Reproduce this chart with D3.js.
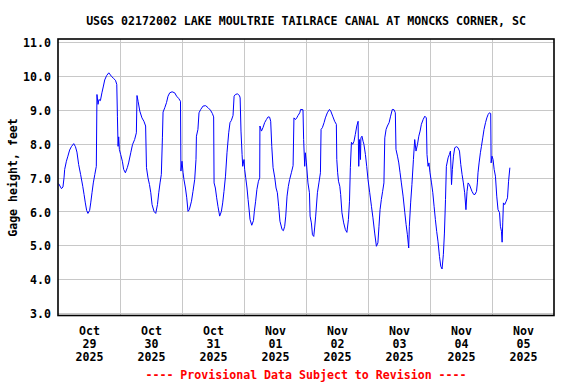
<!DOCTYPE html>
<html>
<head>
<meta charset="utf-8">
<script src="https://cdn.jsdelivr.net/npm/d3@7"></script>
<style>
  body { margin: 0; background: #fff; }
  svg { display: block; }
  svg text { font-family: "DejaVu Sans Mono", "Liberation Mono", monospace; font-weight: bold; font-size: 11.6px; fill: #000; }
</style>
</head>
<body>
<svg id="chart"></svg>
<script>
// Gage height readings in feet: [time of day, value]
const oct29 = [
  ["00:15",6.82],["01:20",6.67],["01:55",6.72],["02:20",6.99],["02:35",7.24],["03:15",7.48],["03:50",7.63],
  ["04:30",7.81],["05:10",7.91],["06:05",8.00],["06:45",7.91],["07:20",7.75],["08:00",7.38],["08:45",7.09],
  ["09:35",6.74],["10:05",6.50],["10:35",6.25],["11:05",6.03],["11:35",5.94],["12:15",6.03],["12:40",6.25],
  ["13:10",6.55],["13:40",6.84],["14:15",7.09],["14:50",7.33],["15:05",9.45],["15:30",9.16],["15:50",9.30],
  ["16:25",9.27],["17:00",9.50],["17:35",9.70],["18:05",9.88],["18:50",10.01],["19:40",10.09],["20:40",9.99],
  ["21:25",9.93],["22:15",9.87],["22:45",9.75],["23:00",8.81],["23:15",7.92],["23:30",8.20],["23:45",7.83]
];
const oct30 = [
  ["00:15",7.68],["00:55",7.48],["01:25",7.24],["02:05",7.14],["02:50",7.29],["03:20",7.43],["04:10",7.73],
  ["04:50",7.97],["05:40",8.12],["06:20",8.32],["06:35",9.42],["07:00",9.25],["07:40",8.96],["08:30",8.76],
  ["09:15",8.66],["09:55",8.52],["10:15",7.29],["10:50",6.99],["11:25",6.79],["11:55",6.55],["12:25",6.20],
  ["13:10",6.00],["13:50",5.94],["14:30",6.20],["15:00",6.55],["15:30",6.84],["16:00",7.09],["16:25",8.17],
  ["16:40",8.93],["17:20",9.06],["18:00",9.21],["18:35",9.40],["19:15",9.50],["20:10",9.53],["21:10",9.50],
  ["21:55",9.40],["22:45",9.33],["23:25",9.25],["23:35",7.19]
];
const oct31 = [
  ["00:00",7.48],["00:25",7.14],["00:45",6.94],["01:20",6.69],["01:50",6.40],["02:20",6.00],["02:50",6.05],
  ["03:40",6.30],["04:15",6.59],["04:55",6.94],["05:25",7.53],["05:35",8.22],["06:10",8.42],["06:35",8.91],
  ["07:15",9.01],["08:10",9.11],["09:10",9.12],["10:05",9.06],["11:00",8.99],["11:45",8.89],["12:15",8.79],
  ["12:25",6.84],["12:55",6.69],["13:25",6.40],["13:55",6.15],["14:35",5.86],["15:15",6.00],["15:45",6.25],
  ["16:15",6.59],["16:50",7.04],["17:25",7.73],["18:05",8.32],["18:35",8.62],["19:05",8.68],["19:45",8.83],
  ["20:10",9.40],["20:40",9.45],["21:25",9.47],["22:15",9.42],["22:30",9.35],["22:50",8.37],["23:15",7.68],
  ["23:30",7.33]
];
const nov01 = [
  ["00:00",7.53],["00:15",7.24],["00:40",6.99],["01:10",6.69],["01:35",6.35],["01:55",6.10],["02:20",5.76],
  ["03:00",5.59],["03:40",5.73],["04:00",6.00],["04:30",6.30],["05:00",6.65],["05:35",6.89],["06:05",6.99],
  ["06:10",8.52],["06:45",8.37],["07:20",8.47],["08:00",8.62],["08:40",8.71],["09:20",8.79],["09:55",8.78],
  ["10:20",8.66],["10:45",7.92],["11:15",7.29],["11:55",6.99],["12:25",6.69],["12:55",6.55],["13:25",6.15],
  ["13:55",5.71],["14:45",5.46],["15:15",5.43],["15:45",5.56],["16:10",5.86],["16:40",6.45],["17:10",6.74],
  ["17:40",6.94],["18:20",7.14],["19:00",7.35],["19:20",8.76],["19:55",8.71],["20:25",8.76],["20:55",8.83],
  ["21:35",8.91],["21:55",9.01],["22:50",9.00],["23:05",8.12],["23:30",7.33],["23:45",7.73]
];
const nov02 = [
  ["00:10",7.43],["00:45",6.84],["01:20",6.55],["01:35",5.86],["02:05",5.66],["02:30",5.31],["03:00",5.26],
  ["03:20",5.51],["03:45",5.86],["04:25",6.55],["05:00",6.84],["05:35",7.14],["05:50",8.42],["06:20",8.47],
  ["07:00",8.62],["07:30",8.76],["08:15",8.91],["09:05",9.01],["09:35",8.96],["10:20",8.81],["11:05",8.66],
  ["11:45",8.57],["11:55",7.53],["12:15",7.14],["12:35",6.89],["13:05",6.74],["13:25",6.50],["13:55",5.96],
  ["14:35",5.66],["15:15",5.46],["15:50",5.38],["16:25",5.76],["16:50",6.30],["17:10",7.29],["17:35",8.04],
  ["18:05",7.98],["18:35",8.07],["19:05",8.27],["19:40",8.52],["20:10",8.66],["20:25",7.33],["20:45",8.12],
  ["21:05",7.53],["21:15",8.17],["21:40",8.22],["22:05",8.07],["22:25",7.98],["23:00",7.68],["23:30",7.33]
];
const nov03 = [
  ["00:00",6.94],["00:40",6.55],["01:20",6.15],["01:55",5.81],["02:35",5.36],["03:15",4.97],["03:50",5.07],
  ["04:15",5.56],["04:40",6.05],["05:10",6.35],["05:40",6.59],["06:10",6.84],["06:30",8.17],["07:00",8.42],
  ["07:30",8.52],["08:10",8.62],["08:45",8.81],["09:25",9.01],["10:05",9.00],["10:35",8.91],["10:50",7.83],
  ["11:25",7.63],["11:55",7.43],["12:25",7.14],["12:55",6.84],["13:35",6.45],["14:15",5.96],["14:45",5.61],
  ["15:15",5.31],["15:45",4.92],["16:00",5.56],["16:30",6.25],["17:00",6.79],["17:35",7.53],["18:05",8.12],
  ["18:35",7.78],["19:10",7.98],["19:40",8.22],["20:10",8.37],["20:40",8.57],["21:20",8.71],["22:00",8.81],
  ["22:35",8.76],["22:50",7.68],["23:15",7.33],["23:35",7.43]
];
const nov04 = [
  ["00:00",7.14],["00:35",6.84],["01:05",6.55],["01:35",6.15],["02:05",5.76],["02:35",5.41],["03:05",5.12],
  ["03:40",4.67],["04:10",4.38],["04:40",4.30],["05:10",4.72],["05:35",5.36],["06:00",6.35],["06:20",7.33],
  ["07:00",7.58],["07:30",7.68],["07:55",7.78],["08:20",6.79],["08:40",7.24],["09:05",7.63],["09:35",7.88],
  ["10:15",7.91],["10:50",7.88],["11:25",7.78],["11:55",7.38],["12:25",7.09],["12:55",6.84],["13:25",6.55],
  ["13:55",6.05],["14:20",6.59],["14:45",6.84],["15:15",6.79],["15:45",6.69],["16:15",6.59],["16:55",6.50],
  ["17:25",6.50],["18:00",6.59],["18:20",6.84],["18:35",7.14],["19:00",7.43],["19:30",7.73],["19:55",7.92],
  ["20:25",8.17],["20:55",8.42],["21:30",8.62],["22:00",8.76],["22:30",8.86],["23:00",8.91],["23:30",8.89],
  ["23:40",7.43]
];
const nov05 = [
  ["00:00",7.63],["00:25",7.53],["00:50",7.24],["01:20",7.04],["01:50",6.45],["02:20",6.05],["02:55",5.96],
  ["03:15",5.56],["03:40",5.41],["03:55",5.09],["04:10",5.66],["04:25",6.25],["04:55",6.20],["05:30",6.30],
  ["06:00",6.40],["06:25",6.89],["06:55",7.29]
];

const days = ["2025-10-29","2025-10-30","2025-10-31","2025-11-01","2025-11-02","2025-11-03","2025-11-04","2025-11-05"];
const dayReadings = [oct29, oct30, oct31, nov01, nov02, nov03, nov04, nov05];
const yTicks = [3, 4, 5, 6, 7, 8, 9, 10, 11];
const xDomain = ["2025-10-29 00:00", "2025-11-06 00:00"];

const titleText = "USGS 02172002 LAKE MOULTRIE TAILRACE CANAL AT MONCKS CORNER, SC";
const yLabelText = "Gage height, feet";
const footerText = "---- Provisional Data Subject to Revision ----";

class GageChart {

  constructor(_config, _data) {
    this.config = {
      parentElement: _config.parentElement,
      containerWidth: _config.containerWidth || 576,
      containerHeight: _config.containerHeight || 384,
      margin: _config.margin || { top: 42, right: 22, bottom: 71, left: 58 }
    };
    this.data = _data;
    this.initVis();
  }

  initVis() {
    let vis = this;

    vis.width = vis.config.containerWidth - vis.config.margin.left - vis.config.margin.right;
    vis.height = vis.config.containerHeight - vis.config.margin.top - vis.config.margin.bottom;

    const parseTime = d3.timeParse("%Y-%m-%d %H:%M");
    vis.xScale = d3.scaleTime()
      .domain(xDomain.map(parseTime))
      .range([0, vis.width]);
    vis.yScale = d3.scaleLinear()
      .domain([3, 11])
      .range([vis.height, 0]);

    vis.svg = d3.select(vis.config.parentElement)
      .attr('width', vis.config.containerWidth)
      .attr('height', vis.config.containerHeight);

    vis.chart = vis.svg.append('g')
      .attr('transform', `translate(${vis.config.margin.left},${vis.config.margin.top})`);

    // frame sits a little outside the 11.0 / 3.0 gridlines
    vis.frameTop = -3;
    vis.frameBottom = vis.height + 2.5;

    vis.yAxisG = vis.chart.append('g').attr('class', 'axis y-axis');
    vis.gridXG = vis.chart.append('g')
      .attr('class', 'grid x-grid')
      .attr('transform', `translate(0,${vis.frameBottom})`);
    vis.xAxisG = vis.chart.append('g')
      .attr('class', 'axis x-axis')
      .attr('transform', `translate(0,${vis.frameBottom})`);

    vis.svg.append('text')
      .attr('x', vis.config.margin.left + vis.width / 2)
      .attr('y', 25)
      .attr('text-anchor', 'middle')
      .text(titleText);

    vis.svg.append('text')
      .attr('transform', 'rotate(-90)')
      .attr('x', -(vis.config.margin.top + vis.height / 2))
      .attr('y', 17)
      .attr('text-anchor', 'middle')
      .text(yLabelText);

    vis.svg.append('text')
      .attr('x', vis.config.margin.left + vis.width / 2)
      .attr('y', 379)
      .attr('text-anchor', 'middle')
      .style('fill', '#ff0000')
      .text(footerText);
  }

  updateVis() {
    let vis = this;
    const parseTime = d3.timeParse("%Y-%m-%d %H:%M");

    vis.points = [];
    days.forEach((day, i) => {
      vis.data[i].forEach(([t, v]) => vis.points.push({ date: parseTime(`${day} ${t}`), value: v }));
    });

    vis.midnights = days.slice(1).map(d => parseTime(`${d} 00:00`));
    vis.noons = days.map(d => parseTime(`${d} 12:00`));

    vis.renderVis();
  }

  renderVis() {
    let vis = this;

    // horizontal gridlines + value labels
    vis.yAxisG.call(d3.axisLeft(vis.yScale)
        .tickValues(yTicks)
        .tickSize(-vis.width)
        .tickPadding(7)
        .tickFormat(d3.format('.1f')))
      .call(g => g.select('.domain').remove())
      .call(g => g.selectAll('line').attr('stroke', '#c8c8c8').attr('shape-rendering', 'crispEdges'))
      .call(g => g.selectAll('text').attr('dy', '0.4em').attr('font-size', null).attr('font-family', null));

    // vertical gridlines at midnight
    vis.gridXG.call(d3.axisBottom(vis.xScale)
        .tickValues(vis.midnights)
        .tickSize(-(vis.frameBottom - vis.frameTop))
        .tickFormat(''))
      .call(g => g.select('.domain').remove())
      .call(g => g.selectAll('line').attr('stroke', '#c8c8c8').attr('shape-rendering', 'crispEdges'));

    // day labels centred at noon
    const fmtMonth = d3.timeFormat('%b'), fmtDay = d3.timeFormat('%d'), fmtYear = d3.timeFormat('%Y');
    vis.xAxisG.call(d3.axisBottom(vis.xScale)
        .tickValues(vis.noons)
        .tickSize(0)
        .tickFormat(''))
      .call(g => g.select('.domain').remove())
      .call(g => g.selectAll('.tick text')
        .attr('y', 0).attr('dy', null)
        .attr('font-size', null).attr('font-family', null)
        .each(function(d) {
          const t = d3.select(this);
          [fmtMonth(d), fmtDay(d), fmtYear(d)].forEach((s, i) => {
            t.append('tspan').attr('x', 0).attr('y', 19.5 + i * 13).text(s);
          });
        }));

    vis.chart.append('path')
      .datum(vis.points)
      .attr('fill', 'none')
      .attr('stroke', '#0000ff')
      .attr('stroke-width', 1)
      .attr('d', d3.line()
        .x(d => vis.xScale(d.date))
        .y(d => vis.yScale(d.value)));

    vis.chart.append('rect')
      .attr('x', 0)
      .attr('y', vis.frameTop)
      .attr('width', vis.width)
      .attr('height', vis.frameBottom - vis.frameTop)
      .attr('fill', 'none')
      .attr('stroke', '#000')
      .attr('stroke-width', 1.6);
  }
}

const chart = new GageChart({ parentElement: '#chart' }, dayReadings);
chart.updateVis();
</script>
</body>
</html>
